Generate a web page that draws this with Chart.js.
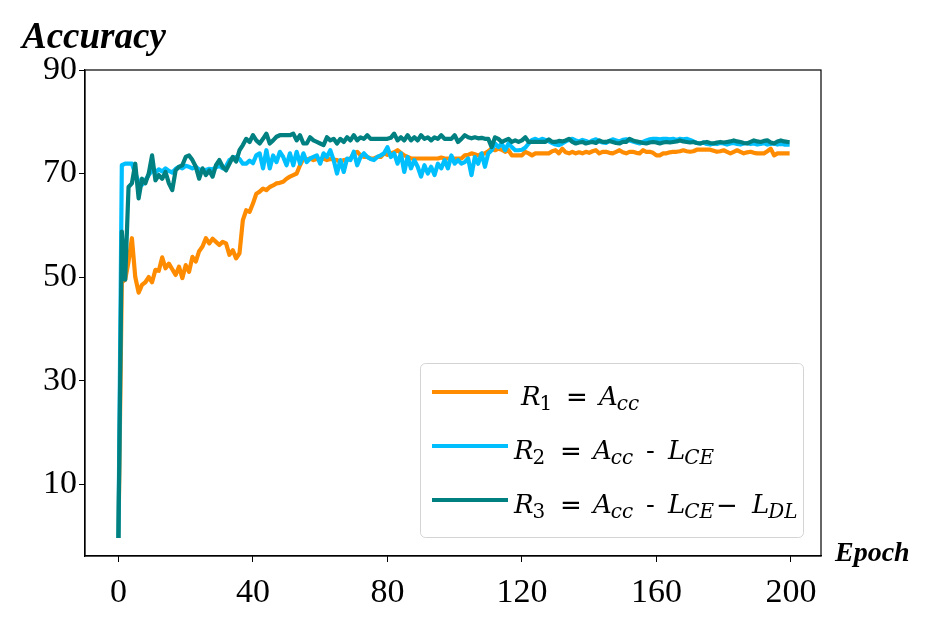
<!DOCTYPE html>
<html>
<head>
<meta charset="utf-8">
<script src="https://cdn.jsdelivr.net/npm/chart.js@4.4.0/dist/chart.umd.min.js"></script>
<style>
html,body{margin:0;padding:0;background:#fff;}
#wrap{width:932px;height:630px;}
</style>
</head>
<body>
<div id="wrap"><canvas id="c" width="932" height="630"></canvas></div>
<script>
// ---- data ----
const seriesLabels = ["R1 = Acc", "R2 = Acc- LCE", "R3 = Acc- LCE− LDL"];
const xTicks = [0, 40, 80, 120, 160, 200];
const yTicks = [10, 30, 50, 70, 90];

const r1 = [
0,49,49.5,53,57.5,50,47,48.5,49,50,
49,51.4,51.2,53.8,51.7,52.6,51.5,50.4,52,49.8,
52.3,51,53.9,53,55,55.9,57.5,56.5,57.4,56.8,
56.2,56.8,56.5,54.3,55.2,53.6,54.6,61,62.9,62.6,
64.2,66.1,66.5,67.1,66.8,67.4,67.7,68.1,68.2,68.4,
69,69.4,69.7,70,71.6,72.9,72.7,72.9,72.6,72.8,
72.7,72.9,72.6,72.8,72.7,72.6,72.2,72.6,72.7,72.9,
73.9,74.2,73.5,73.2,73.2,72.9,72.9,73.2,73.2,73.9,
73.6,73.9,74.1,74.5,74,73.5,73.2,72.9,72.9,72.9,
72.9,72.9,72.9,72.9,72.9,72.9,73.1,72.9,72.9,72.9,
72.9,72.9,72.9,73.5,73.6,73.9,73.7,73.5,73.8,73.9,
74.3,74.8,74.5,74.8,74.6,74.2,74.5,73.5,73.5,73.5,
73.5,74.2,73.9,73.5,73.9,73.9,73.9,73.9,73.9,74.3,
74.5,73.9,74.8,74.1,73.9,74.2,73.9,74.1,73.9,74.2,
74.0,74.3,74.5,73.9,74.2,74.2,74.0,73.9,74.2,74.5,
74.1,73.9,74.2,74.2,74.0,73.9,74.5,74.2,74.2,74.0,
73.5,73.5,73.9,73.9,74.1,74.2,74.2,74.3,74.5,74.3,
74.2,74.3,74.6,74.6,74.6,74.6,74.6,74.4,74.2,74.3,
74.5,74.2,73.9,74.2,74.5,74.2,73.9,74.1,74.2,74.0,
73.9,73.9,73.9,74.3,74.8,73.5,73.9,73.9,73.9,73.9
];
const r2 = [
0,71.6,71.9,71.9,71.9,70,68.4,67.8,68.7,69.7,
70.6,70.2,70.8,70.4,71.0,70.5,70.2,70.9,71.3,71.0,
71.5,71.3,71.0,71.3,70.8,70.6,70.7,70.9,70.8,71.2,
71.5,71.0,71.4,72.6,73.0,73.2,72.8,71.9,71.9,72.5,
72.0,73.5,73.9,71,74.5,71,73.5,72.2,74.2,73.2,
71.6,73.9,71.6,74.2,71.9,73.9,72.2,72.9,73.2,73.5,
71.9,73.9,73.2,74.5,72.6,70,72.6,70.3,72.9,72.6,
74.2,71.6,73.2,73.9,73.2,72.8,72.6,73.2,73.5,73.9,
75.1,73.2,73.9,71.9,73.9,70.3,73.2,71,72.6,71.3,
69.4,71.6,70,71.3,69.7,71.9,71,72.6,71,73.5,
71.9,72.6,71.9,72.2,72.9,69.7,73.2,71.9,73.9,71.3,
73.9,74.5,75.8,75.1,75.8,74.5,75.8,75.1,74.5,74.5,
74.6,75.0,75.8,76.5,76.7,76.4,76.7,76.5,76.2,75.9,
75.6,75.5,75.8,76.2,76.5,76.7,76.4,76.2,76.5,76.3,
76.0,76.4,76.6,76.2,76.0,75.9,76.3,76.6,76.4,76.2,
76.5,76.6,76.4,76.2,76.0,75.8,76.1,76.4,76.6,76.7,
76.7,76.6,76.7,76.7,76.6,76.7,76.5,76.7,76.6,76.7,
76.5,76.2,75.9,75.8,76.0,75.7,75.6,75.8,75.7,75.9,
75.8,75.6,75.8,75.9,75.7,75.6,75.8,75.9,75.7,75.8,
75.6,75.7,75.9,75.6,75.7,75.8,75.6,75.7,75.6,75.6
];
const r3 = [
0,58.8,49.5,67.4,68.1,71.9,65.2,69,68.1,70,
73.5,68.7,69.7,69,70.3,68.1,66.8,70.6,71.3,71.6,
73.2,73.5,72.6,71.3,69,71,69.7,70.6,69.4,71.6,
72.6,71.3,70.6,71.9,73.2,72.3,74.5,75.5,76.7,76.1,
77.4,76.4,75.8,76.7,77.7,75.8,76.4,77.1,77.4,77.4,
77.4,77.4,77.7,76.4,77.4,75.8,75.8,77,76.4,76.1,
75.8,75.5,77,76.4,76.7,75.8,76.7,76.1,77,76.4,
77.4,76.4,77,76.7,77.4,76.7,76.7,76.7,76.7,76.7,
76.7,76.9,77.7,76.4,77,76.4,77.4,76.4,77,76.4,
77.4,76.7,77,76.4,77,76.7,77.4,76.7,76.7,76.7,
77.4,76.1,76.7,77.4,77.0,76.8,77.0,76.8,76.9,76.7,
76.7,75.1,77,76.7,76.1,76.4,76.7,76.1,76.4,76.1,
76.4,77,76.1,76.1,76.1,76.1,76.1,76.1,76.6,76.1,
76.1,76.3,76.2,76.4,76.7,76.1,75.8,76.0,76.1,75.8,
76.0,76.1,75.9,76.4,76.1,76.1,76.3,76.1,75.9,75.8,
76.1,76.1,76.7,76.4,76.2,76.1,75.9,75.8,76.0,76.1,
76.0,75.8,76.0,76.1,76.0,76.1,76.2,76.4,76.2,76.1,
76.0,76.1,75.9,75.8,76.0,76.1,75.9,75.8,76.0,76.1,
76.0,76.1,76.2,76.4,76.2,76.1,75.9,75.8,76.1,76.4,
76.2,76.1,76.3,76.4,76.0,75.8,76.2,76.4,76.2,76.1
];
const epochs = r1.map((_, i) => i);

// ---- chart ----
const colors = ["#FF8C00", "#00BFFF", "#008080"];
const series = [r1, r2, r3];
const serif = '"Liberation Serif", "Times New Roman", serif';
const mathSerif = '"DejaVu Serif", serif';

const datasets = series.map((s, k) => ({
  label: seriesLabels[k],
  data: s.map((v, i) => ({x: epochs[i], y: v})),
  borderColor: colors[k],
  backgroundColor: colors[k],
  borderWidth: 4.2,
  pointRadius: 0,
  tension: 0,
  fill: false,
  borderJoinStyle: 'round',
  borderCapStyle: 'square',
  order: 3 - k
}));

// rich legend rows: segments [text, kind, xOffsetFromLegendLeft or null = right after previous]
const legendRows = [
  [["R","m",101],["1","d",null],["=","e",146],["A","m",179],["cc","s",null]],
  [["R","m",94],["2","d",null],["=","e",140],["A","m",173],["cc","s",null],["-","h",226],["L","m",248],["CE","s",null]],
  [["R","m",94],["3","d",null],["=","e",140],["A","m",173],["cc","s",null],["-","h",226],["L","m",248],["CE","s",null],["−","e",296],["L","m",332],["DL","s",null]]
];

const decor = {
  id: 'decor',
  afterDraw(chart) {
    const ctx = chart.ctx;
    const a = chart.chartArea;
    ctx.save();
    // frame
    ctx.strokeStyle = '#000';
    ctx.lineWidth = 1.2;
    ctx.strokeRect(a.left, a.top, a.right - a.left, a.bottom - a.top);
    // axis titles
    ctx.fillStyle = '#000';
    ctx.textBaseline = 'alphabetic';
    ctx.textAlign = 'left';
    ctx.font = 'italic bold 37px ' + serif;
    ctx.fillText('Accuracy', 22, 48);
    ctx.font = 'italic bold 28px ' + serif;
    ctx.fillText('Epoch', 835, 561);

    // legend box
    const lx = 420, ly = 363, lw = 383, lh = 174;
    ctx.beginPath();
    ctx.roundRect(lx + 0.5, ly + 0.5, lw, lh, 5);
    ctx.fillStyle = 'rgba(255,255,255,0.85)';
    ctx.fill();
    ctx.strokeStyle = '#d4d4d4';
    ctx.lineWidth = 1;
    ctx.stroke();
    const rowY = [392, 446, 500];
    legendRows.forEach((row, k) => {
      const y = rowY[k];
      ctx.beginPath();
      ctx.moveTo(lx + 12, y);
      ctx.lineTo(lx + 88, y);
      ctx.strokeStyle = colors[k];
      ctx.lineWidth = 4.2;
      ctx.lineCap = 'butt';
      ctx.stroke();
      ctx.fillStyle = '#000';
      const base = y + 13;
      let cursor = lx;
      row.forEach(([t, kind, off]) => {
        let yy = base;
        if (kind === 'm') ctx.font = 'italic 26px ' + mathSerif;
        else if (kind === 's') { ctx.font = 'italic 20px ' + mathSerif; yy = base + 5; }
        else if (kind === 'd') { ctx.font = '20px ' + mathSerif; yy = base + 5; }
        else if (kind === 'e') { ctx.font = '26px "DejaVu Sans", sans-serif'; yy = base + 1; }
        else ctx.font = '26px ' + mathSerif;
        const x = (off === null) ? cursor - 1 : lx + off;
        ctx.fillText(t, x, yy);
        cursor = x + ctx.measureText(t).width;
      });
    });
    ctx.restore();
  }
};

new Chart(document.getElementById('c'), {
  type: 'line',
  data: { datasets },
  plugins: [decor],
  options: {
    responsive: false,
    animation: false,
    devicePixelRatio: 1,
    layout: { padding: { top: 70, right: 111, left: 0, bottom: 0 } },
    plugins: { legend: { display: false }, tooltip: { enabled: false } },
    scales: {
      x: {
        type: 'linear',
        min: -9.95, max: 208.95,
        afterBuildTicks: s => { s.ticks = xTicks.map(v => ({value: v})); },
        afterFit: s => { s.height = 74; },
        grid: { drawOnChartArea: false, drawTicks: true, tickLength: 6, color: '#000', tickColor: '#000' },
        border: { display: true, color: '#000', width: 1.2 },
        ticks: { color: '#000', font: { family: serif, size: 34 }, padding: 11, maxRotation: 0, autoSkip: false }
      },
      y: {
        type: 'linear',
        min: -3.885, max: 90,
        afterBuildTicks: s => { s.ticks = yTicks.map(v => ({value: v})); },
        afterFit: s => { s.width = 85; },
        grid: { drawOnChartArea: false, drawTicks: true, tickLength: 6, color: '#000', tickColor: '#000' },
        border: { display: true, color: '#000', width: 1.2 },
        ticks: { color: '#000', font: { family: serif, size: 34 }, padding: 2, autoSkip: false }
      }
    }
  }
});
</script>
</body>
</html>
